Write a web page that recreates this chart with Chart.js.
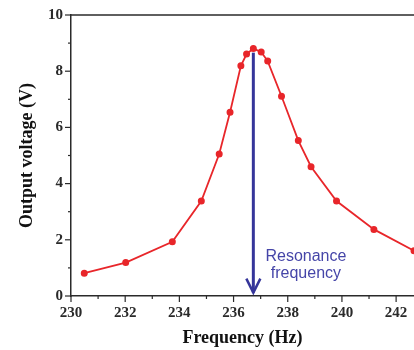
<!DOCTYPE html>
<html>
<head>
<meta charset="utf-8">
<script src="https://cdn.jsdelivr.net/npm/chart.js@4/dist/chart.umd.min.js"></script>
<style>
html, body { margin: 0; padding: 0; background: #fff; }
#wrap { width: 414px; height: 350px; }
</style>
</head>
<body>
<div id="wrap"><canvas id="resChart" width="414" height="350"></canvas></div>
<script>
// measured points (Hz, V)
var freq = [230.49, 232.02, 233.74, 234.81, 235.47, 235.87, 236.27, 236.48, 236.73, 237.02, 237.26, 237.77, 238.39, 238.86, 239.80, 241.18, 242.66];
var volts = [0.81, 1.19, 1.93, 3.38, 5.05, 6.54, 8.19, 8.61, 8.81, 8.68, 8.36, 7.11, 5.53, 4.60, 3.38, 2.37, 1.61];

// resonance marker
var arrowX = 236.73, arrowTop = 8.66, arrowBottom = 0.12;
var noteLines = ["Resonance", "frequency"];
var noteX = 238.67, noteY = [1.25, 0.64];

var axisColor = '#2a2a2a';
var serif = '"Liberation Serif", "Times New Roman", serif';

var pts = freq.map(function (f, i) { return { x: f, y: volts[i] }; });

var axisExtras = {
    id: 'axisExtras',
    afterDatasetsDraw: function (chart) {
        var c = chart.ctx, a = chart.chartArea;
        var xs = chart.scales.x, ys = chart.scales.y;
        c.save();
        // top frame line
        c.strokeStyle = axisColor;
        c.lineWidth = 1.5;
        c.beginPath();
        c.moveTo(a.left, a.top);
        c.lineTo(a.right, a.top);
        c.stroke();
        // ticks, major + minor, pointing out
        c.lineWidth = 1.2;
        for (var v = 230; v <= 242; v++) {
            var px = xs.getPixelForValue(v);
            var len = (v % 2 === 0) ? 6 : 3;
            c.beginPath();
            c.moveTo(px, a.bottom);
            c.lineTo(px, a.bottom + len);
            c.stroke();
        }
        for (var w = 0; w <= 10; w++) {
            var py = ys.getPixelForValue(w);
            var l2 = (w % 2 === 0) ? 6 : 3;
            c.beginPath();
            c.moveTo(a.left, py);
            c.lineTo(a.left - l2, py);
            c.stroke();
        }
        // arrow
        var ax = xs.getPixelForValue(arrowX);
        var ay1 = ys.getPixelForValue(arrowTop);
        var ay2 = ys.getPixelForValue(arrowBottom);
        c.strokeStyle = '#35359a';
        c.lineWidth = 3;
        c.beginPath();
        c.moveTo(ax, ay1);
        c.lineTo(ax, ay2);
        c.stroke();
        c.lineWidth = 2.5;
        c.beginPath();
        c.moveTo(ax - 7, ay2 - 14);
        c.lineTo(ax, ay2);
        c.lineTo(ax + 7, ay2 - 14);
        c.stroke();
        // note text
        c.fillStyle = '#4545a8';
        c.font = '16px "Liberation Sans", Arial, sans-serif';
        c.textAlign = 'center';
        c.textBaseline = 'alphabetic';
        noteLines.forEach(function (t, i) {
            c.fillText(t, xs.getPixelForValue(noteX), ys.getPixelForValue(noteY[i]));
        });
        c.restore();
    }
};

new Chart(document.getElementById('resChart').getContext('2d'), {
    type: 'scatter',
    data: {
        datasets: [{
            data: pts,
            showLine: true,
            borderColor: 'rgb(232,38,42)',
            backgroundColor: 'rgb(232,38,42)',
            borderWidth: 1.8,
            pointRadius: 2.6,
            pointHoverRadius: 2.6
        }]
    },
    options: {
        responsive: false,
        animation: false,
        devicePixelRatio: 1,
        layout: { autoPadding: false, padding: { top: 15, right: 0, left: 0, bottom: 0 } },
        plugins: {
            legend: { display: false },
            tooltip: { enabled: false }
        },
        scales: {
            x: {
                type: 'linear',
                min: 230,
                max: 242.66,
                afterFit: function (s) { s.height = 54; s.paddingLeft = 0; s.paddingRight = 0; },
                border: { color: axisColor, width: 1.5 },
                grid: { display: true, drawOnChartArea: false, tickLength: 5, tickColor: 'rgba(0,0,0,0)' },
                ticks: {
                    stepSize: 2,
                    includeBounds: false,
                    maxRotation: 0,
                    padding: 3,
                    color: axisColor,
                    font: { family: serif, size: 15, weight: 'bold' }
                },
                title: {
                    display: true,
                    text: 'Frequency (Hz)',
                    color: '#111',
                    padding: { top: 0, bottom: 1 },
                    font: { family: serif, size: 18, weight: 'bold' }
                }
            },
            y: {
                min: 0,
                max: 10,
                afterFit: function (s) { s.width = 71; s.paddingTop = 0; s.paddingBottom = 0; },
                border: { color: axisColor, width: 1.5 },
                grid: { display: true, drawOnChartArea: false, tickLength: 6, tickColor: 'rgba(0,0,0,0)' },
                ticks: {
                    stepSize: 2,
                    padding: 2,
                    color: axisColor,
                    font: { family: serif, size: 15, weight: 'bold' }
                },
                title: {
                    display: true,
                    text: 'Output voltage (V)',
                    color: '#111',
                    padding: { top: 17, bottom: 0 },
                    font: { family: serif, size: 18, weight: 'bold' }
                }
            }
        }
    },
    plugins: [axisExtras]
});
</script>
</body>
</html>
